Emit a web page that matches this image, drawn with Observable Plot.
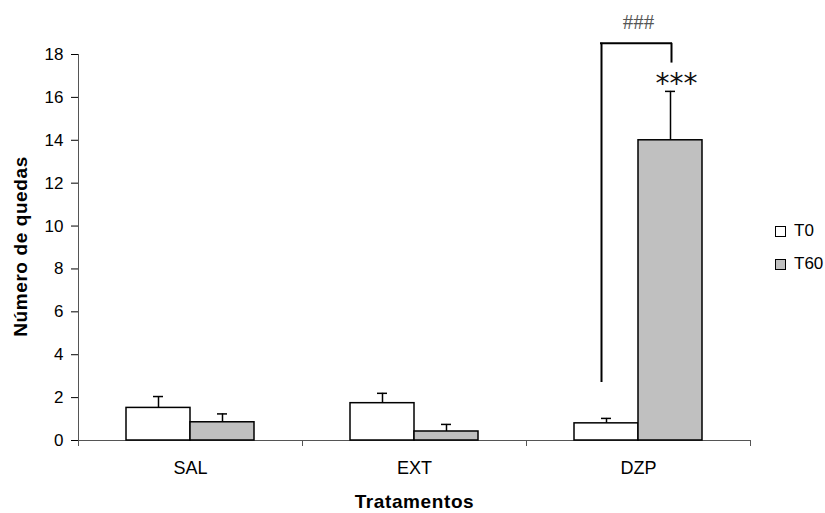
<!DOCTYPE html>
<html><head><meta charset="utf-8">
<script src="https://cdn.jsdelivr.net/npm/d3@7"></script>
<script src="https://cdn.jsdelivr.net/npm/@observablehq/plot@0.6"></script>
<style>
body{margin:0;background:#fff;font-family:"Liberation Sans",Arial,sans-serif;}
#wrap{position:relative;width:825px;height:513px;}
.leg{position:absolute;left:775px;height:14px;font-size:17px;display:flex;align-items:center;color:#000;}
.sw{width:9px;height:9px;border:1px solid #000;margin-right:8px;box-sizing:content-box;}
</style></head><body><div id="wrap"></div>
<script>
const categories = ["SAL", "EXT", "DZP"];
const seriesNames = ["T0", "T60"];
const meanT0 = [1.52, 1.74, 0.80];
const meanT60 = [0.85, 0.42, 14.0];
const semT0 = [0.53, 0.46, 0.23];
const semT60 = [0.39, 0.33, 2.28];
const yTicks = [0, 2, 4, 6, 8, 10, 12, 14, 16, 18];
const seriesFill = ["#ffffff", "#c0c0c0"];
const xTitle = "Tratamentos";
const yTitle = "Número de quedas";
const sigStars = "***";
const sigHash = "###";
// bracket levels (data units): bottom of left leg, top bar, bottom of right leg
const bracketLevels = [2.7, 18.52, 17.6];

const rows = categories.flatMap((c, i) => [
  {c, s: "T0", v: meanT0[i], e: semT0[i]},
  {c, s: "T60", v: meanT60[i], e: semT60[i]}
]);
const r0 = rows.filter(d => d.s === "T0");
const r1 = rows.filter(d => d.s === "T60");
const dzp = categories[2];
const axisColor = "#555";

const chart = Plot.plot({
  width: 825, height: 513,
  marginLeft: 78, marginRight: 75, marginTop: 54, marginBottom: 73,
  style: {fontFamily: "'Liberation Sans', Arial, sans-serif", fontSize: "17px", color: "#000", background: "#fff"},
  x: {domain: categories, padding: 0, label: null, tickSize: 0, tickPadding: 21},
  y: {domain: [0, 18], ticks: yTicks, tickFormat: d => String(d), label: null, tickSize: 7, tickPadding: 8},
  marks: [
    Plot.ruleX([categories[0]], {x: d => d, dx: -112, y1: 0, y2: 18, stroke: axisColor, strokeWidth: 1}),
    Plot.ruleY([0], {stroke: axisColor, strokeWidth: 1}),
    Plot.ruleX(categories, {x: d => d, dx: -112, y1: 0, y2: 0, insetTop: 6, stroke: axisColor}),
    Plot.ruleX([categories[categories.length - 1]], {x: d => d, dx: 112, y1: 0, y2: 0, insetTop: 6, stroke: axisColor}),
    Plot.ruleX(r0, {x: "c", y1: "v", y2: d => d.v + d.e, dx: -32, stroke: "#000", strokeWidth: 1.5}),
    Plot.ruleX(r1, {x: "c", y1: "v", y2: d => d.v + d.e, dx: 32, stroke: "#000", strokeWidth: 1.5}),
    Plot.tickY(r0, {x: "c", y: d => d.v + d.e, insetLeft: 75, insetRight: 139, stroke: "#000", strokeWidth: 1.5}),
    Plot.tickY(r1, {x: "c", y: d => d.v + d.e, insetLeft: 139, insetRight: 75, stroke: "#000", strokeWidth: 1.5}),
    Plot.barY(r0, {x: "c", y1: 0, y2: "v", insetLeft: 48, insetRight: 112, fill: seriesFill[0], stroke: "#000", strokeWidth: 1.5}),
    Plot.barY(r1, {x: "c", y1: 0, y2: "v", insetLeft: 112, insetRight: 48, fill: seriesFill[1], stroke: "#000", strokeWidth: 1.5}),
    Plot.ruleX([dzp], {x: d => d, dx: -37, y1: bracketLevels[0], y2: bracketLevels[1], stroke: "#000", strokeWidth: 2}),
    Plot.ruleX([dzp], {x: d => d, dx: 33, y1: bracketLevels[2], y2: bracketLevels[1], stroke: "#000", strokeWidth: 2}),
    Plot.tickY([dzp], {x: d => d, y: () => bracketLevels[1], insetLeft: 74, insetRight: 78, stroke: "#000", strokeWidth: 2}),
    Plot.text([sigHash], {x: () => dzp, y: () => bracketLevels[1], dy: -21, text: d => d, fontSize: 21, fontFamily: "'Liberation Serif', serif", fill: "#555"}),
    Plot.text(r1.filter(d => d.c === dzp), {x: "c", y: d => d.v + d.e, dx: 38, dy: -7, text: () => sigStars, fontSize: 28, fontFamily: "'DejaVu Sans', sans-serif", fill: "#111"}),
    Plot.text([xTitle], {frameAnchor: "bottom", textAnchor: "middle", dy: 67, text: d => d, fontSize: 19, fontWeight: "bold"}),
    Plot.text([yTitle], {frameAnchor: "left", textAnchor: "middle", lineAnchor: "middle", dx: -58, dy: -1, rotate: -90, text: d => d, fontSize: 19, fontWeight: "bold"})
  ]
});
const yTickTexts = new Set(yTicks.map(String));
chart.querySelectorAll("text").forEach(t => {
  if (t.textContent === xTitle || t.textContent === yTitle) t.style.letterSpacing = "0.6px";
  if (yTickTexts.has(t.textContent)) { t.style.fontSize = "17px"; t.setAttribute("fill", "#000"); }
  if (categories.includes(t.textContent)) { t.style.fontSize = "18px"; t.setAttribute("fill", "#000"); }
});
const wrap = document.getElementById("wrap");
wrap.appendChild(chart);
seriesNames.forEach((s, i) => {
  const d = document.createElement("div");
  d.className = "leg";
  d.style.top = (224 + i * 33) + "px";
  d.innerHTML = `<span class="sw" style="background:${seriesFill[i]}"></span><span>${s}</span>`;
  wrap.appendChild(d);
});
</script></body></html>
